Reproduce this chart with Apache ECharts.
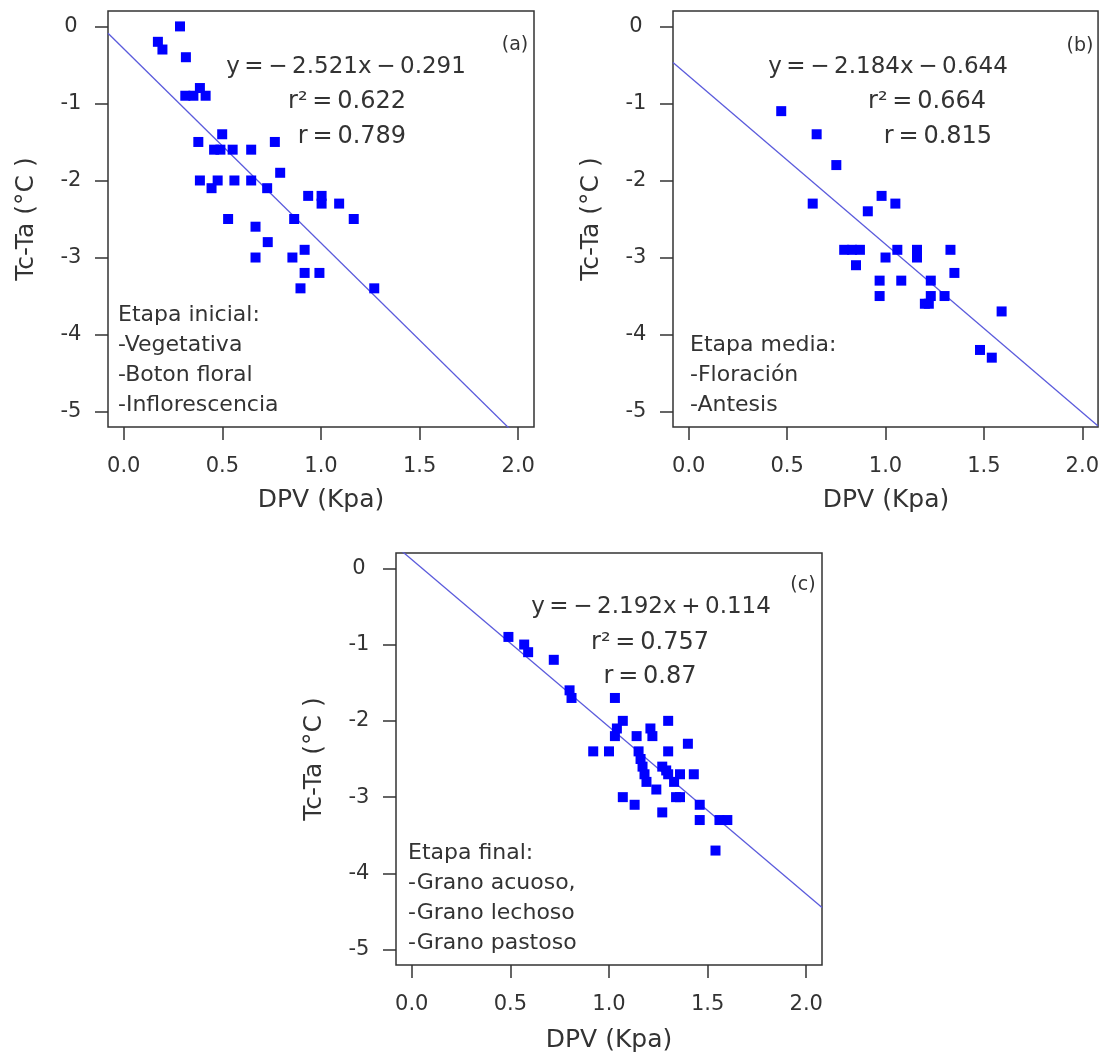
<!DOCTYPE html>
<html>
<head>
<meta charset="utf-8">
<script src="https://cdn.jsdelivr.net/npm/echarts@6/dist/echarts.min.js"></script>
<style>
  html, body { margin: 0; padding: 0; background: #fff; }
  #chart { width: 1102px; height: 1064px; }
</style>
</head>
<body>
<div id="chart"></div>
<script>
// DPV (kPa) vs canopy-air temperature difference Tc-Ta (°C), three crop stages

// (a) Etapa inicial
const dpvA = [0.285, 0.173, 0.196, 0.315, 0.312, 0.353, 0.386, 0.415, 0.378, 0.499,
  0.458, 0.490, 0.552, 0.646, 0.766, 0.793, 0.386, 0.445, 0.476, 0.561,
  0.646, 0.727, 0.935, 1.003, 1.003, 1.092, 1.166, 0.864, 0.529, 0.668,
  0.730, 0.668, 0.855, 0.917, 0.917, 0.992, 0.896, 1.270];
const tcA = [0, -0.2, -0.3, -0.4, -0.9, -0.9, -0.8, -0.9, -1.5, -1.4,
  -1.6, -1.6, -1.6, -1.6, -1.5, -1.9, -2.0, -2.1, -2.0, -2.0,
  -2.0, -2.1, -2.2, -2.2, -2.3, -2.3, -2.5, -2.5, -2.5, -2.6,
  -2.8, -3.0, -3.0, -2.9, -3.2, -3.2, -3.4, -3.4];

// (b) Etapa media
const dpvB = [0.47, 0.65, 0.75, 0.63, 0.98, 1.05, 0.91, 0.79, 0.83, 0.87,
  0.85, 1.00, 1.06, 1.16, 1.16, 1.33, 1.35, 0.97, 0.97, 1.08,
  1.23, 1.23, 1.20, 1.22, 1.30, 1.59, 1.48, 1.54];
const tcB = [-1.1, -1.4, -1.8, -2.3, -2.2, -2.3, -2.4, -2.9, -2.9, -2.9,
  -3.1, -3.0, -2.9, -2.9, -3.0, -2.9, -3.2, -3.3, -3.5, -3.3,
  -3.3, -3.5, -3.6, -3.6, -3.5, -3.7, -4.2, -4.3];

// (c) Etapa final
const dpvC = [0.49, 0.57, 0.59, 0.72, 0.80, 0.81, 1.03, 1.07, 1.04, 1.03,
  0.92, 1.00, 1.14, 1.21, 1.22, 1.30, 1.40, 1.30, 1.15, 1.16,
  1.17, 1.18, 1.19, 1.27, 1.29, 1.30, 1.33, 1.36, 1.43, 1.24,
  1.34, 1.36, 1.07, 1.13, 1.27, 1.46, 1.46, 1.56, 1.60, 1.54];
const tcC = [-0.9, -1.0, -1.1, -1.2, -1.6, -1.7, -1.7, -2.0, -2.1, -2.2,
  -2.4, -2.4, -2.2, -2.1, -2.2, -2.0, -2.3, -2.4, -2.4, -2.5,
  -2.6, -2.7, -2.8, -2.6, -2.65, -2.7, -2.8, -2.7, -2.7, -2.9,
  -3.0, -3.0, -3.0, -3.1, -3.2, -3.1, -3.3, -3.3, -3.3, -3.7];

// fitted regressions y = slope * x + intercept
const slopes = [-2.521, -2.184, -2.192];
const intercepts = [-0.291, -0.644, 0.114];
const eqTexts = ['y\u2009=\u2009\u2212\u20092.521x\u2009\u2212\u20090.291',
                 'y\u2009=\u2009\u2212\u20092.184x\u2009\u2212\u20090.644',
                 'y\u2009=\u2009\u2212\u20092.192x\u2009+\u20090.114'];
const r2Texts = ['r\u00b2\u2009=\u20090.622', 'r\u00b2\u2009=\u20090.664', 'r\u00b2\u2009=\u20090.757'];
const rTexts = ['r\u2009=\u20090.789', 'r\u2009=\u20090.815', 'r\u2009=\u20090.87'];
const panelTags = ['(a)', '(b)', '(c)'];
const stageTexts = [
  ['Etapa inicial:', '-Vegetativa', '-Boton floral', '-Inflorescencia'],
  ['Etapa media:', '-Floración', '-Antesis'],
  ['Etapa final:', '-Grano acuoso,', '-Grano lechoso', '-Grano pastoso']
];

// axes
const xTickValues = [0, 0.5, 1, 1.5, 2];
const xTickLabels = ['0.0', '0.5', '1.0', '1.5', '2.0'];
const yTickValues = [0, -1, -2, -3, -4, -5];
const yTickLabels = ['0', '-1', '-2', '-3', '-4', '-5'];
const xTitle = 'DPV (Kpa)';
const yTitle = 'Tc-Ta (°C )';
const X_MIN = -0.08, X_MAX = 2.08, Y_MIN = -5.2, Y_MAX = 0.2;

const FONT = 'DejaVu Sans';
const TXT = '#333';
const POINT = '#0000ff';
const FIT = '#5b5bdc';

const boxes = [
  { left: 108, top: 11, width: 426, height: 416 },
  { left: 673, top: 11, width: 426, height: 416 },
  { left: 396, top: 553, width: 426, height: 412 }
];
const pointSets = [[dpvA, tcA], [dpvB, tcB], [dpvC, tcC]];

// text layout per panel
const eqPos = [[346, 67], [888, 67], [651, 607]];
const r2Pos = [[347, 102], [927, 102], [650, 643]];
const rPos = [[352, 137], [938, 137], [650, 677]];
const tagPos = [[515, 45], [1080, 46], [803, 585]];
const stagePos = [[118, 315], [690, 345], [408, 853]];
const xTitlePos = [[321, 500], [886, 500], [609, 1040]];
const yTitlePos = [[26, 219], [591, 219], [314, 759]];

const grid = [], xAxis = [], yAxis = [], series = [], graphic = [];

boxes.forEach((b, i) => {
  grid.push(Object.assign({
    show: true, borderColor: '#333', borderWidth: 1.5, backgroundColor: '#fff'
  }, b));

  xAxis.push({
    gridIndex: i, type: 'value', min: X_MIN, max: X_MAX, position: 'bottom',
    axisLine: { show: false, onZero: false }, splitLine: { show: false },
    axisTick: { show: true, inside: false, length: 13, customValues: xTickValues,
      lineStyle: { color: '#333', width: 1.5 } },
    axisLabel: { customValues: xTickValues, margin: 40, verticalAlign: 'middle',
      fontFamily: FONT, fontSize: 21, color: TXT,
      formatter: v => { const k = xTickValues.indexOf(v); return k >= 0 ? xTickLabels[k] : ''; } }
  });
  yAxis.push({
    gridIndex: i, type: 'value', min: Y_MIN, max: Y_MAX, position: 'left',
    axisLine: { show: false, onZero: false }, splitLine: { show: false },
    axisTick: { show: true, inside: false, length: 13, customValues: yTickValues,
      lineStyle: { color: '#333', width: 1.5 } },
    axisLabel: { customValues: yTickValues, margin: 37, align: 'center',
      fontFamily: FONT, fontSize: 21, color: TXT,
      formatter: v => { const k = yTickValues.indexOf(v); return k >= 0 ? yTickLabels[k] : ''; } }
  });

  const [xs, ys] = pointSets[i];
  series.push({
    type: 'scatter', xAxisIndex: i, yAxisIndex: i,
    symbol: 'rect', symbolSize: 10,
    itemStyle: { color: POINT, opacity: 1 },
    data: xs.map((x, k) => [x, ys[k]]),
    z: 3
  });
  series.push({
    type: 'line', xAxisIndex: i, yAxisIndex: i,
    symbol: 'none', clip: true, silent: true,
    lineStyle: { color: FIT, width: 1.3 },
    data: [[X_MIN, slopes[i] * X_MIN + intercepts[i]],
           [X_MAX, slopes[i] * X_MAX + intercepts[i]]],
    z: 2
  });

  const txt = (text, x, y, size, align) => ({
    type: 'text', x, y, z: 10,
    style: { text, fill: TXT, font: size + 'px "' + FONT + '"',
      textAlign: align || 'center', textVerticalAlign: 'middle' }
  });
  graphic.push(txt(eqTexts[i], eqPos[i][0], eqPos[i][1], 23));
  graphic.push(txt(r2Texts[i], r2Pos[i][0], r2Pos[i][1], 24));
  graphic.push(txt(rTexts[i], rPos[i][0], rPos[i][1], 24));
  graphic.push(txt(panelTags[i], tagPos[i][0], tagPos[i][1], 19));
  stageTexts[i].forEach((line, k) => {
    graphic.push(txt(line, stagePos[i][0], stagePos[i][1] + k * 30, 22, 'left'));
  });
  graphic.push(txt(xTitle, xTitlePos[i][0], xTitlePos[i][1], 25));
  const yt = txt(yTitle, yTitlePos[i][0], yTitlePos[i][1], 25);
  yt.rotation = Math.PI / 2;
  graphic.push(yt);
});

const chart = echarts.init(document.getElementById('chart'), null, { renderer: 'canvas' });
chart.setOption({
  backgroundColor: '#fff',
  animation: false,
  grid, xAxis, yAxis, series, graphic
});
</script>
</body>
</html>
